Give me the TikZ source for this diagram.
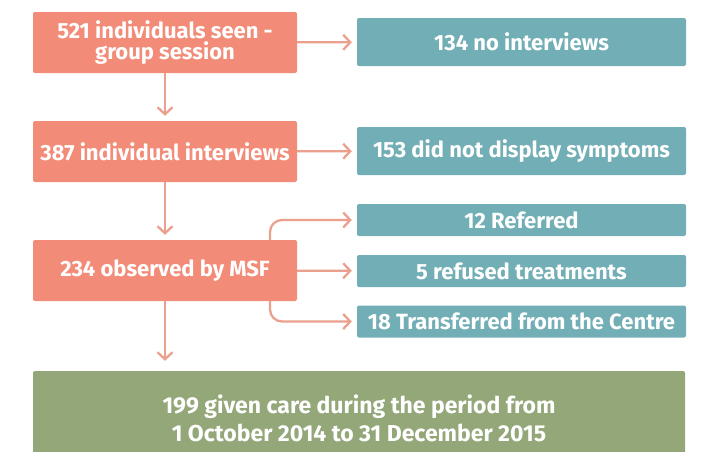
\documentclass[tikz,border=0pt]{standalone}
\usepackage{fontspec}
\setmainfont{Fira Sans}
\usetikzlibrary{arrows.meta}
\definecolor{salmonbox}{HTML}{F28C78}
\definecolor{tealbox}{HTML}{72AEB5}
\definecolor{greenbox}{HTML}{93A779}
\definecolor{linkline}{HTML}{EBA08E}
\begin{document}
\begin{tikzpicture}[x=1pt,y=-1pt,
    mainbox/.style={fill=salmonbox,rounded corners=2pt,minimum width=264pt,minimum height=61pt,
        inner sep=0pt,text=white,font=\fontsize{22}{21}\selectfont\bfseries,align=center},
    sidebox/.style={fill=tealbox,rounded corners=2pt,minimum width=329pt,minimum height=48pt,
        inner sep=0pt,text=white,font=\fontsize{22}{21}\selectfont\bfseries},
    smallbox/.style={sidebox,minimum height=32pt},
    link/.style={draw=linkline,line width=2.3pt,-{Straight Barb[length=7pt,width=15pt]},shorten >=5pt}]

    \useasboundingbox (0,0) rectangle (702,451);

    \node[mainbox] (seen) at (165,42.5) {521 individuals seen -\\group session};
    \node[sidebox] (nointerview) at (521.5,42) {134 no interviews};
    \node[mainbox] (interviews) at (165,151.5) {387 individual interviews};
    \node[sidebox] (nosymptoms) at (521.5,151) {153 did not display symptoms};
    \node[mainbox] (observed) at (165,270.5) {234 observed by MSF};
    \node[smallbox] (referred) at (521.5,220) {12 Referred};
    \node[smallbox] (refused) at (521.5,271) {5 refused treatments};
    \node[smallbox] (transferred) at (521.5,321.5) {18 Transferred from the Centre};
    \node[fill=greenbox,rounded corners=2pt,minimum width=652pt,minimum height=94pt,inner sep=0pt,
        text=white,font=\fontsize{23}{28}\selectfont\bfseries,align=center]
        (care) at (359,418) {199 given care during the period from\\1 October 2014 to 31 December 2015};

    \draw[link] (seen) -- (nointerview);
    \draw[link] (seen) -- (interviews);
    \draw[link] (interviews) -- (nosymptoms);
    \draw[link] (interviews) -- (observed);
    \draw[link] (observed) -- (refused);
    \draw[link,shorten >=10pt] (observed) -- (observed |- care.north);
    \draw[link,rounded corners=12pt] ([xshift=105pt]observed.north) |- (referred);
    \draw[link,rounded corners=12pt] ([xshift=105pt]observed.south) |- (transferred);
\end{tikzpicture}
\end{document}
